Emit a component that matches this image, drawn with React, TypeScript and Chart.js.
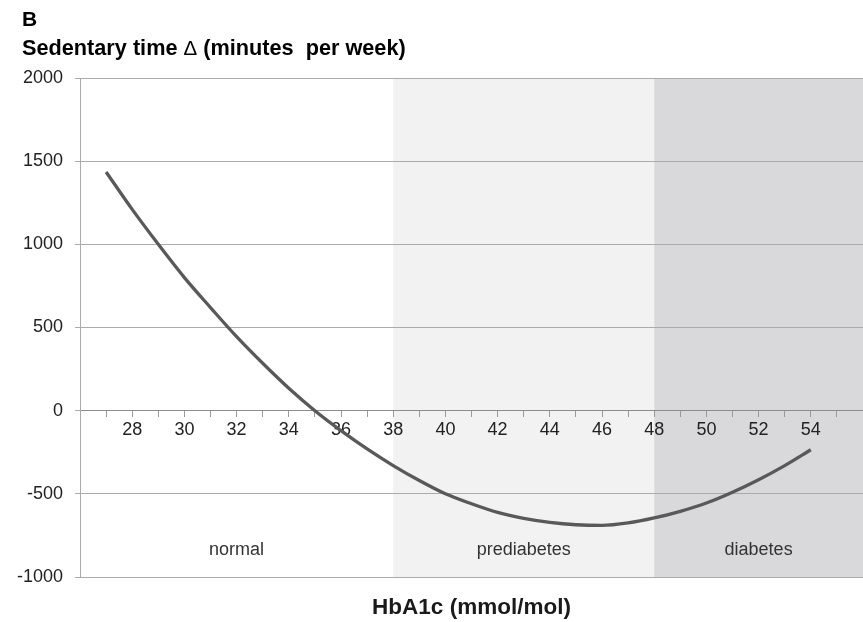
import React, { useEffect, useRef } from "react";
import { Chart, registerables } from "chart.js";

Chart.register(...registerables);

const hba1c = [27, 28, 29, 30, 31, 32, 33, 34, 35, 36, 37, 38, 39, 40, 41, 42, 43, 44, 45, 46, 47, 48, 49, 50, 51, 52, 53, 54];
const sedentaryDelta = [1435, 1210, 1000, 800, 620, 445, 285, 135, 0, -120, -230, -330, -420, -500, -560, -612, -648, -672, -686, -690, -675, -645, -605, -555, -490, -415, -330, -235];

const bandLabels = ["normal", "prediabetes", "diabetes"];
const bandStarts = [26, 38, 48];
const bandEnds = [38, 48, 56];
const bandLabelY = -840;

const xMin = 26;
const xMax = 56;
const xLabelMin = 28;
const xLabelMax = 54;
const yMin = -1000;
const yMax = 2000;
const yStep = 500;

const panelLetter = "B";
const yTitleParts = ["Sedentary time ", "Δ", " (minutes  per week)"];
const xTitle = "HbA1c (mmol/mol)";

const bandColors = ["#ffffff", "#f2f2f2", "#d9d9db"];
const FONT = "'Liberation Sans', Arial, sans-serif";

const decorPlugin = {
  id: "decor",
  beforeDraw(chart: any) {
    const { ctx, chartArea, scales } = chart;
    const x = scales.x;
    ctx.save();
    ctx.fillStyle = "#ffffff";
    ctx.fillRect(0, 0, chart.width, chart.height);
    bandStarts.forEach((s, i) => {
      const x1 = x.getPixelForValue(s);
      const x2 = x.getPixelForValue(bandEnds[i]);
      ctx.fillStyle = bandColors[i];
      ctx.fillRect(x1, chartArea.top, x2 - x1, chartArea.bottom - chartArea.top);
    });
    ctx.restore();
  },
  afterDraw(chart: any) {
    const { ctx, chartArea, scales } = chart;
    const x = scales.x;
    const y = scales.y;
    ctx.save();
    ctx.fillStyle = "#333333";
    ctx.font = `18px ${FONT}`;
    ctx.textAlign = "center";
    ctx.textBaseline = "middle";
    bandLabels.forEach((lab, i) => {
      const cx = (x.getPixelForValue(bandStarts[i]) + x.getPixelForValue(bandEnds[i])) / 2;
      ctx.fillText(lab, cx, y.getPixelForValue(bandLabelY));
    });
    ctx.fillStyle = "#000000";
    ctx.textAlign = "left";
    ctx.textBaseline = "alphabetic";
    ctx.font = `bold 21px ${FONT}`;
    ctx.fillText(panelLetter, 22, 26);
    let tx = 22;
    yTitleParts.forEach((part, i) => {
      ctx.font = i === 1 ? `20.5px ${FONT}` : `bold 21.7px ${FONT}`;
      ctx.fillText(part, tx, 55);
      tx += ctx.measureText(part).width;
    });
    ctx.textAlign = "center";
    ctx.fillStyle = "#1a1a1a";
    ctx.font = `bold 22.5px ${FONT}`;
    ctx.fillText(xTitle, (chartArea.left + chartArea.right) / 2, 614);
    ctx.restore();
  },
};

export default function App() {
  const ref = useRef<HTMLCanvasElement>(null);
  useEffect(() => {
    document.body.style.margin = "0";
    const chart = new Chart(ref.current as HTMLCanvasElement, {
      type: "line",
      data: {
        datasets: [
          {
            data: hba1c.map((v, i) => ({ x: v, y: sedentaryDelta[i] })),
            borderColor: "#595959",
            borderWidth: 3.3,
            pointRadius: 0,
            cubicInterpolationMode: "monotone",
            fill: false,
          },
        ],
      },
      options: {
        animation: false,
        responsive: false,
        events: [],
        layout: { padding: { left: 0, top: 78, right: 0, bottom: 45 } },
        plugins: { legend: { display: false }, tooltip: { enabled: false }, title: { display: false } },
        scales: {
          x: {
            type: "linear",
            position: { y: 0 } as any,
            min: xMin,
            max: xMax,
            afterFit: (s: any) => {
              s.paddingLeft = 0;
              s.paddingRight = 0;
            },
            grid: { drawOnChartArea: false, drawTicks: true, tickLength: 6, color: "#9a9a9a" },
            border: { display: true, color: "#8c8c8c" },
            ticks: {
              stepSize: 1,
              autoSkip: false,
              maxRotation: 0,
              padding: 3,
              color: "#222222",
              font: { family: FONT, size: 18 },
              callback: (v: any) => (v % 2 === 0 && v >= xLabelMin && v <= xLabelMax ? String(v) : ""),
            },
          },
          y: {
            min: yMin,
            max: yMax,
            afterFit: (s: any) => {
              s.width = 80;
            },
            grid: { color: "#ababab", tickLength: 5, drawTicks: true },
            border: { display: true, color: "#ababab" },
            ticks: {
              stepSize: yStep,
              padding: 12,
              color: "#222222",
              font: { family: FONT, size: 18 },
              callback: (v: any) => String(v),
            },
          },
        },
      },
      plugins: [decorPlugin],
    });
    return () => chart.destroy();
  }, []);
  return (
    <div style={{ position: "fixed", left: 0, top: 0, width: 863, height: 622 }}>
      <canvas ref={ref} width={863} height={622} />
    </div>
  );
}
